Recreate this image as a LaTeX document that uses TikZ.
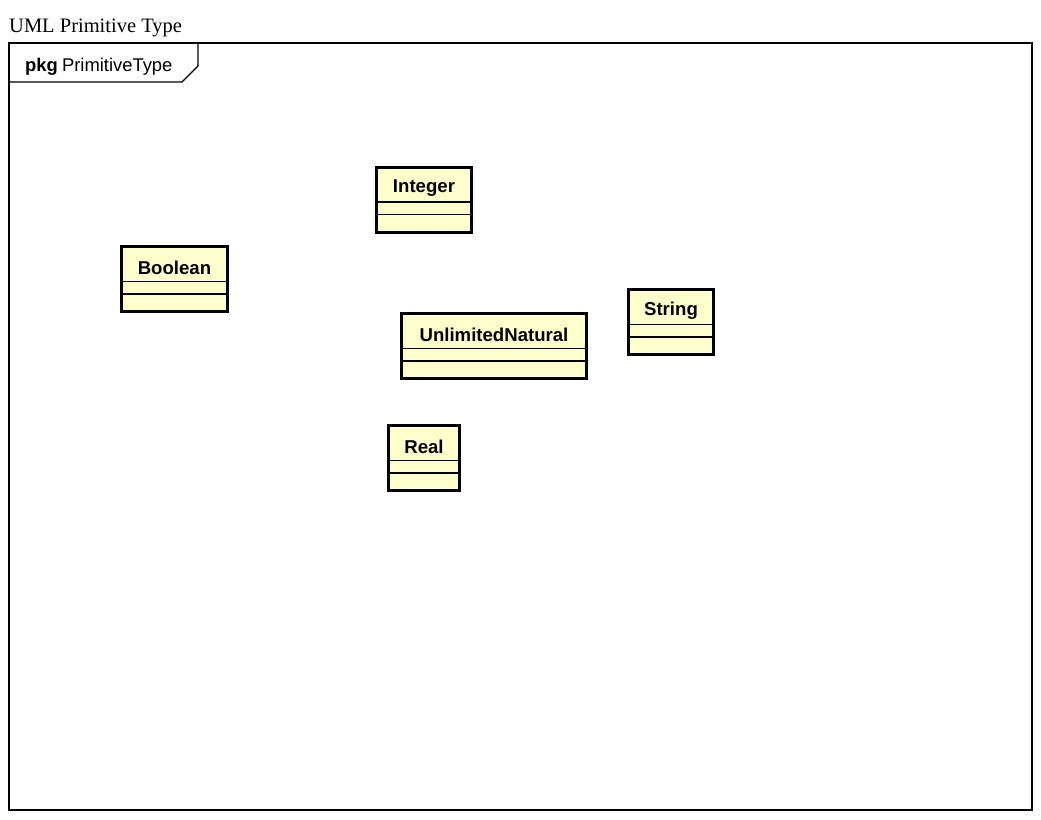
\documentclass[tikz,border=0pt]{standalone}
\usepackage{fontspec}
\setmainfont{Liberation Serif}
\newfontfamily\arialf{Liberation Sans}
\usetikzlibrary{calc,shadows}
\definecolor{classfill}{HTML}{FFFFCC}
\tikzset{
  classbox/.style={draw=black, line width=3pt, fill=classfill, minimum height=65pt, inner sep=0pt,
    drop shadow={shadow xshift=1.2pt, shadow yshift=-1.2pt, fill=black!35, opacity=0.6}},
  classname/.style={font=\arialf\bfseries\fontsize{18.6}{20}\selectfont, inner sep=0pt},
  sepline/.style={draw=black, line width=1.3pt},
  frameline/.style={draw=black, line width=1.4pt},
}
\begin{document}
\begin{tikzpicture}[x=1pt,y=-1pt]
\useasboundingbox (0,0) rectangle (1041,819);
% title
\node[anchor=base west, inner sep=0pt, font=\fontsize{20.5}{22}\selectfont] (title) at (9,32) {UML Primitive Type};
% package frame
\draw[frameline] (9,43) rectangle (1032,810);
\coordinate (tabA) at (9,82);
\coordinate (tabB) at (182,82);
\coordinate (tabC) at (198,66);
\coordinate (tabD) at (198,43);
\draw[frameline] (tabA) -- (tabB) -- (tabC) -- (tabD);
\node[anchor=base west, inner sep=0pt, font=\arialf\fontsize{18.4}{20}\selectfont] (pkg) at (25,71) {\textbf{pkg}\hspace{-1pt} PrimitiveType};
% classes
\foreach \nm/\lbl/\cx/\cy/\w in {integer/Integer/424/199.5/95, boolean/Boolean/174.5/279/106, unlimited/UnlimitedNatural/494/346/185, string/String/671/322/85, real/Real/424/458/71}{
  \node[classbox, minimum width=\w pt] (\nm) at (\cx,\cy) {};
  \node[classname] (\nm-name) at ($(\nm.north)+(0,22.5)$) {\lbl};
  \draw[sepline] ($(\nm.north west)+(0,36.5)$) -- ($(\nm.north east)+(0,36.5)$);
  \draw[sepline] ($(\nm.north west)+(0,49)$) -- ($(\nm.north east)+(0,49)$);
}
\end{tikzpicture}
\end{document}
